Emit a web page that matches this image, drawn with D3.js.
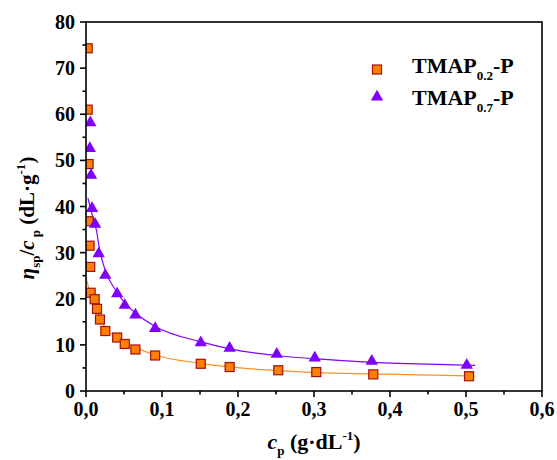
<!DOCTYPE html>
<html><head><meta charset="utf-8">
<script src="https://cdn.jsdelivr.net/npm/d3@7"></script>
<style>
body{margin:0;background:#fff}
text{font-family:"Liberation Serif","Times New Roman",serif;font-weight:bold;fill:#000}
</style>
</head><body><svg id="c" width="557" height="460"></svg>
<script>
// TMAP0.2-P : squares
const concA = [0.0022,0.0022,0.0034,0.0034,0.0047,0.0056,0.0061,0.0114,0.0145,0.0184,0.0254,0.041,0.051,0.065,0.091,0.151,0.189,0.253,0.303,0.378,0.504];
const viscA = [74.3,61.0,49.2,36.8,31.5,26.9,21.3,19.9,17.8,15.5,13.0,11.6,10.2,9.0,7.7,5.9,5.2,4.5,4.1,3.6,3.2];
// TMAP0.7-P : triangles
const concB = [0.0057,0.005,0.0066,0.008,0.012,0.0167,0.0254,0.041,0.051,0.065,0.091,0.151,0.189,0.251,0.301,0.376,0.501];
const viscB = [58.4,52.8,47.0,39.8,36.4,30.0,25.3,21.3,18.8,16.7,13.8,10.7,9.5,8.2,7.4,6.7,5.8];
// fitted curves
const fitConcA = [0,0.005,0.01,0.015,0.023,0.04,0.067,0.091,0.15,0.203,0.253,0.303,0.378,0.504,0.512];
const fitViscA = [24.6,21.6,19.3,17.3,14.3,11.6,9.3,7.8,6.0,5.0,4.4,4.0,3.7,3.25,3.2];
const fitConcB = [0.0026,0.006,0.01,0.014,0.0175,0.025,0.04,0.05,0.065,0.091,0.15,0.203,0.251,0.3,0.376,0.501,0.512];
const fitViscB = [41.8,39.5,37.2,34.6,31.0,26.3,21.6,19.3,16.9,14.0,10.7,8.7,7.7,7.0,6.2,5.6,5.55];
const xTicks = [0,0.1,0.2,0.3,0.4,0.5,0.6];
const yTicks = [0,10,20,30,40,50,60,70,80];
const legendNames = [["TMAP","0.2","-P"],["TMAP","0.7","-P"]];

const svg = d3.select("#c");
const L=86,R=542,T=22,B=391;
const x = d3.scaleLinear().domain([0,0.6]).range([L,R]);
const y = d3.scaleLinear().domain([0,80]).range([B,T]);

svg.append("defs").append("clipPath").attr("id","clip")
  .append("rect").attr("x",L).attr("y",T-10).attr("width",R-L+10).attr("height",B-T+10);

const g = svg.append("g").attr("clip-path","url(#clip)");
const line = d3.line().x(d=>x(d[0])).y(d=>y(d[1])).curve(d3.curveMonotoneX);
g.append("path").datum(fitConcA.map((c,i)=>[c,fitViscA[i]]))
  .attr("d",line).attr("fill","none").attr("stroke","#FF9020").attr("stroke-width",1.2);
g.append("path").datum(fitConcB.map((c,i)=>[c,fitViscB[i]]))
  .attr("d",line).attr("fill","none").attr("stroke","#8000FF").attr("stroke-width",1.2);

const sq = 9;
g.selectAll("rect.a").data(concA.map((c,i)=>[c,viscA[i]])).join("rect")
  .attr("x",d=>x(d[0])-sq/2).attr("y",d=>y(d[1])-sq/2).attr("width",sq).attr("height",sq)
  .attr("fill","#FF8000").attr("stroke","#A01010").attr("stroke-width",1.2);
const tri = d3.symbol().type(d3.symbolTriangle).size(66);
g.selectAll("path.b").data(concB.map((c,i)=>[c,viscB[i]])).join("path")
  .attr("d",tri).attr("transform",d=>`translate(${x(d[0])},${y(d[1])+1})`)
  .attr("fill","#8000FF");

// axes
const ax = svg.append("g").attr("stroke","#000");
ax.append("rect").attr("x",L).attr("y",T).attr("width",R-L).attr("height",B-T)
  .attr("fill","none").attr("stroke-width",1.6);
d3.range(0,0.6001,0.05).forEach((v,i)=>{
  const major = i%2===0;
  ax.append("line").attr("x1",x(v)).attr("x2",x(v)).attr("y1",B).attr("y2",B+(major?6:3.5)).attr("stroke-width",1.6);
});
d3.range(0,80.001,5).forEach((v,i)=>{
  const major = i%2===0;
  ax.append("line").attr("y1",y(v)).attr("y2",y(v)).attr("x1",L).attr("x2",L-(major?6:3.5)).attr("stroke-width",1.6);
});
const fmt = v=>d3.format(".1f")(v).replace(".",",");
svg.append("g").selectAll("text").data(xTicks).join("text")
  .attr("x",d=>x(d)).attr("y",B+25).attr("text-anchor","middle").attr("font-size",20).text(fmt);
svg.append("g").selectAll("text").data(yTicks).join("text")
  .attr("x",L-11).attr("y",d=>y(d)+7).attr("text-anchor","end").attr("font-size",20).text(d=>d);

// x title
const xt = svg.append("text").attr("x",314).attr("y",449).attr("text-anchor","middle").attr("font-size",22);
xt.append("tspan").attr("font-style","italic").text("c");
xt.append("tspan").attr("font-size",13).attr("dy",6).text("p");
xt.append("tspan").attr("dy",-6).text(" (g·dL");
xt.append("tspan").attr("font-size",13).attr("dy",-9).text("-1");
xt.append("tspan").attr("dy",9).text(")");

// y title
const yt = svg.append("text").attr("font-size",21);
yt.append("tspan").attr("font-style","italic").text("η");
yt.append("tspan").attr("font-size",13).attr("dy",6).text("sp");
yt.append("tspan").attr("dy",-6).text("/");
yt.append("tspan").attr("font-style","italic").text("c");
yt.append("tspan").attr("font-size",13).attr("dy",6).text(" p");
yt.append("tspan").attr("dy",-6).text(" (dL·g");
yt.append("tspan").attr("font-size",13).attr("dy",-9).text("-1");
yt.append("tspan").attr("dy",9).text(")");
const bb = yt.node().getBBox();
yt.attr("transform",`translate(34,${218 + bb.x + bb.width/2}) rotate(-90)`);

// legend
const lg = svg.append("g");
lg.append("rect").attr("x",377-sq/2).attr("y",69.5-sq/2).attr("width",sq).attr("height",sq)
  .attr("fill","#FF8000").attr("stroke","#A01010").attr("stroke-width",1.2);
lg.append("path").attr("d",tri).attr("transform","translate(377,97)").attr("fill","#8000FF");
legendNames.forEach((n,i)=>{
  const t = lg.append("text").attr("x",412).attr("y",73+i*32).attr("font-size",22);
  t.append("tspan").text(n[0]);
  t.append("tspan").attr("font-size",13).attr("dy",7).text(n[1]);
  t.append("tspan").attr("dy",-7).text(n[2]);
});
</script></body></html>
